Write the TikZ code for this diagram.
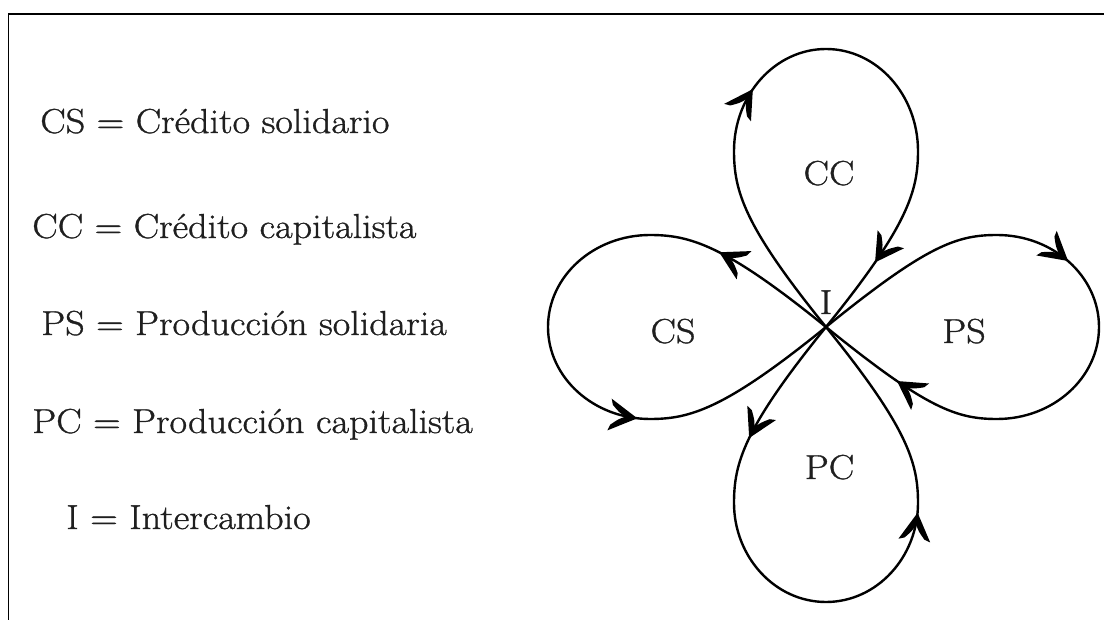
\documentclass[tikz,border=0pt]{standalone}
\usepackage{fontspec}
\setmainfont{Latin Modern Roman}[FakeStretch=1.1, FakeBold=1]
\usetikzlibrary{decorations.markings}
\tikzset{
  txt/.style={font=\fontsize{26}{31}\selectfont, inner sep=0pt, text=black!88},
  lbl/.style={txt, anchor=base},
  leg/.style={txt, anchor=base west},
  loopline/.style={line width=1.8pt, line join=round, line cap=round},
  arr/.style 2 args={postaction={decorate}, decoration={markings,
      mark=at position #1 with {\flowhead},
      mark=at position #2 with {\flowhead}}},
}
\newcommand\flowhead{\fill (2pt,0pt) -- (-19pt,12pt) -- (-17.5pt,7.5pt)
   .. controls (-12pt,2.5pt) .. (-7pt,0pt)
   .. controls (-12pt,-2.5pt) .. (-17.5pt,-7.5pt) -- (-19pt,-12pt) -- cycle;}
\begin{document}
\begin{tikzpicture}[x=0.75pt, y=-0.75pt]
\useasboundingbox (0,0) rectangle (1104,620);
% frame
\draw[line width=1.4pt] (8.5,620) -- (8.5,14) -- (1104,14);

% legend
\node[leg] (lcs) at (40,133) {CS = Crédito solidario};
\node[leg] (lcc) at (32,238) {CC = Crédito capitalista};
\node[leg] (lps) at (41,335) {PS = Producción solidaria};
\node[leg] (lpc) at (32,433) {PC = Producción capitalista};
\node[leg] (li)  at (66,529) {I = Intercambio};

% crossing point
\coordinate (X) at (826,327);

% CS loop
\draw[loopline, arr={0.18}{0.693}] (X)
  .. controls (725,245) and (690,235) .. (650,235)
  .. controls (594,235) and (548,276) .. (548,327)
  .. controls (548,378) and (594,419) .. (650,419)
  .. controls (690,419) and (725,409) .. (X);
% CC loop
\draw[loopline, arr={0.374}{0.882}] (X)
  .. controls (744,226) and (734,191) .. (734,151)
  .. controls (734,95) and (775,49) .. (826,49)
  .. controls (877,49) and (918,95) .. (918,151)
  .. controls (918,191) and (908,226) .. (X);
% PS loop
\draw[loopline, arr={0.389}{0.869}] (X)
  .. controls (927,245) and (957,235) .. (997,235)
  .. controls (1053,235) and (1099,276) .. (1099,327)
  .. controls (1099,378) and (1053,419) .. (997,419)
  .. controls (957,419) and (927,409) .. (X);
% PC loop
\draw[loopline, arr={0.188}{0.695}] (X)
  .. controls (744,428) and (734,463) .. (734,503)
  .. controls (734,557) and (775,602) .. (826,602)
  .. controls (877,602) and (918,557) .. (918,503)
  .. controls (918,463) and (908,428) .. (X);

% labels
\node[lbl] (cc) at (829,185) {CC};
\node[lbl] (cs) at (673,343) {CS};
\node[lbl] (ps) at (964,343) {PS};
\node[lbl] (pc) at (829.5,479) {PC};
\node[lbl] (i)  at (826,314) {I};
\end{tikzpicture}
\end{document}
